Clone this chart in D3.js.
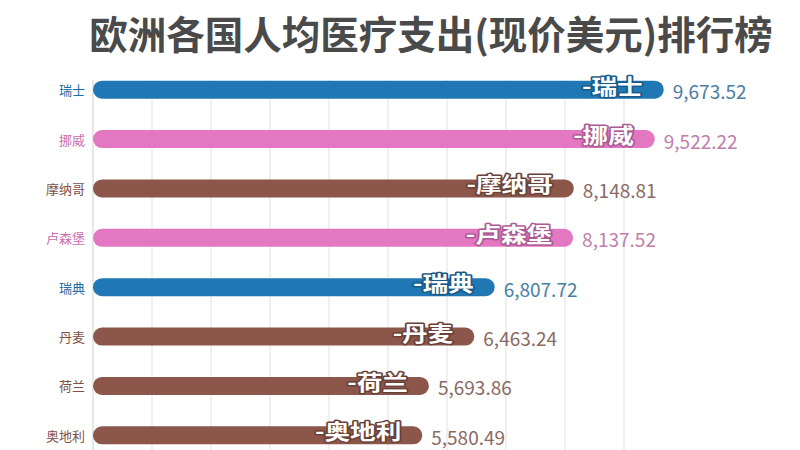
<!DOCTYPE html>
<html>
<head>
<meta charset="utf-8">
<script src="https://cdn.jsdelivr.net/npm/d3@7"></script>
<style>
  html, body { margin: 0; padding: 0; background: #fff; }
  svg { display: block; }
</style>
</head>
<body>
<svg id="chart" width="800" height="450"></svg>
<script>
const countries = ["瑞士", "挪威", "摩纳哥", "卢森堡", "瑞典", "丹麦", "荷兰", "奥地利"];
const values = [9673.52, 9522.22, 8148.81, 8137.52, 6807.72, 6463.24, 5693.86, 5580.49];
const xTicks = [0, 1000, 2000, 3000, 4000, 5000, 6000, 7000, 8000, 9000];
const title = "欧洲各国人均医疗支出(现价美元)排行榜";

const colorMap = {
  "瑞士": "#1f77b4", "瑞典": "#1f77b4",
  "挪威": "#e377c2", "卢森堡": "#e377c2",
  "摩纳哥": "#8c564b", "丹麦": "#8c564b", "荷兰": "#8c564b", "奥地利": "#8c564b"
};

const svg = d3.select("#chart");
const font = "'Noto Sans CJK SC', 'Noto Sans', sans-serif";

const x = d3.scaleLinear().domain([0, 10000]).range([93, 683]);
const y = d3.scaleBand().domain(countries).range([65, 460])
  .paddingInner(0.636).paddingOuter(0.318);

// gridlines
svg.append("g").selectAll("line").data(xTicks).join("line")
  .attr("x1", d => x(d)).attr("x2", d => x(d))
  .attr("y1", 80).attr("y2", 450)
  .attr("stroke", d => d === 0 ? "#d8d8d8" : "#e6e6e6").attr("stroke-width", 1.2);

const data = countries.map((c, i) => ({ c, v: values[i] }));
const bh = y.bandwidth();

// bars
svg.append("g").selectAll("rect").data(data).join("rect")
  .attr("x", x(0)).attr("y", d => y(d.c))
  .attr("width", d => x(d.v) - x(0)).attr("height", bh)
  .attr("rx", bh / 2).attr("ry", bh / 2)
  .attr("fill", d => colorMap[d.c]);

// y-axis labels
svg.append("g").selectAll("text").data(data).join("text")
  .attr("x", 85).attr("y", d => y(d.c) + bh / 2)
  .attr("text-anchor", "end").attr("dominant-baseline", "central")
  .attr("font-family", font).attr("font-size", 13)
  .attr("fill", d => d3.interpolateRgb(colorMap[d.c], "#333")(0.15))
  .text(d => d.c);

// inner labels
svg.append("g").selectAll("text").data(data).join("text")
  .attr("transform", d => `translate(${x(d.v) - 21},${y(d.c) + bh / 2 - 5}) scale(1.22,1)`)
  .attr("text-anchor", "end").attr("dominant-baseline", "central")
  .attr("font-family", font).attr("font-size", 21).attr("font-weight", "bold")
  .attr("fill", "#fff")
  .attr("stroke", d => d3.color(colorMap[d.c]).darker(0.8)).attr("stroke-width", 3)
  .attr("stroke-linejoin", "round").attr("paint-order", "stroke")
  .text(d => "-" + d.c);

// value labels
const fmt = d3.format(",.2f");
svg.append("g").selectAll("text").data(data).join("text")
  .attr("x", d => x(d.v) + 9).attr("y", d => y(d.c) + bh / 2 + 1)
  .attr("dominant-baseline", "central")
  .attr("font-family", font).attr("font-size", 19)
  .attr("fill", d => d3.interpolateRgb(colorMap[d.c], "#888")(0.4))
  .text(d => fmt(d.v));

// title
svg.append("text")
  .attr("x", 431).attr("y", 32)
  .attr("text-anchor", "middle").attr("dominant-baseline", "central")
  .attr("font-family", font).attr("font-size", 38.5).attr("font-weight", "bold")
  .attr("fill", "#4a4a4a")
  .text(title);
</script>
</body>
</html>
